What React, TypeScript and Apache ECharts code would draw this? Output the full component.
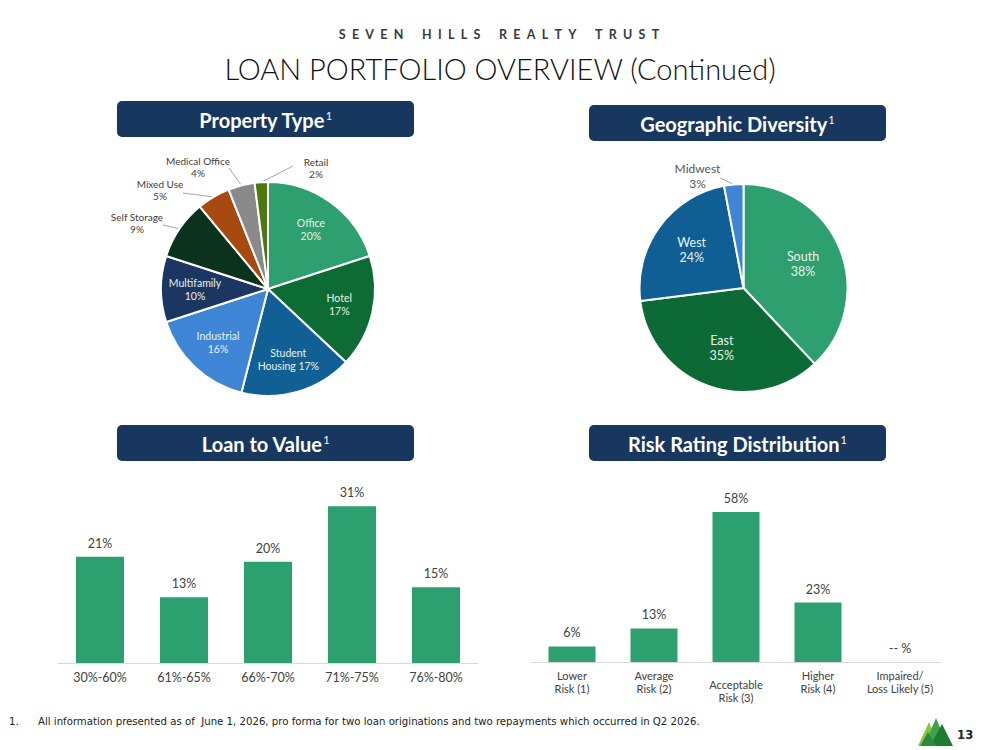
import React, { useEffect, useRef } from "react";
import * as echarts from "echarts";

// ---- data ----
const propertyTypes = [
  "Office",
  "Hotel",
  "Student Housing",
  "Industrial",
  "Multifamily",
  "Self Storage",
  "Mixed Use",
  "Medical Office",
  "Retail",
];
const propertyShares = [20, 17, 17, 16, 10, 9, 5, 4, 2];

const regions = ["South", "East", "West", "Midwest"];
const regionShares = [38, 35, 24, 3];

const ltvBuckets = ["30%-60%", "61%-65%", "66%-70%", "71%-75%", "76%-80%"];
const ltvShares = [21, 13, 20, 31, 15];

const riskRatings = [
  "Lower\nRisk (1)",
  "Average\nRisk (2)",
  "Acceptable\nRisk (3)",
  "Higher\nRisk (4)",
  "Impaired/\nLoss Likely (5)",
];
const riskShares = [6, 13, 58, 23, 0];

// ---- styling ----
const FONT = "Lato, 'Open Sans', 'Noto Sans', sans-serif";
const NARROW = "'Liberation Sans Narrow', 'DejaVu Sans Condensed', sans-serif";
const NAVY = "#17375E";
const TEXT = "#404040";
const BAR = "#2CA06E";

const propertyColors = [
  "#2E9F6E",
  "#0D6B34",
  "#106096",
  "#3E85D5",
  "#1B3660",
  "#0A321C",
  "#A84A10",
  "#8A8A8A",
  "#4C7810",
];
const regionColors = ["#2E9F6E", "#0B6A36", "#0F5E94", "#3E85D5"];

// pie geometry
const PROP_CENTER = [268, 289];
const PROP_R = 107;
const GEO_CENTER = [743.5, 288];
const GEO_R = 104;

// callout placement for the thin slices, relative to the pie centre
const propertyCallouts: Record<string, { label: number[]; end: number[] }> = {
  Retail: { label: [48, -121], end: [25, -123] },
  "Medical Office": { label: [-70, -122], end: [-39, -121] },
  "Mixed Use": { label: [-108, -99], end: [-85, -96] },
  "Self Storage": { label: [-131, -66], end: [-105, -64] },
};
const geoCallouts: Record<string, { label: number[]; end: number[] }> = {
  Midwest: { label: [-46, -112], end: [-23, -110] },
};
const smallProperty = new Set(Object.keys(propertyCallouts));
const smallRegion = new Set(Object.keys(geoCallouts));

function calloutLayout(
  names: string[],
  center: number[],
  spots: Record<string, { label: number[]; end: number[] }>
) {
  return (p: any) => {
    const spot = spots[names[p.dataIndex]];
    if (!spot) return {};
    const end = [center[0] + spot.end[0], center[1] + spot.end[1]];
    const pts = p.labelLinePoints;
    const out: any = {
      x: center[0] + spot.label[0],
      y: center[1] + spot.label[1],
      align: "center",
      verticalAlign: "middle",
    };
    if (pts) out.labelLinePoints = [pts[0], end, end];
    return out;
  };
}

function headerBox(x: number, y: number, title: string) {
  return {
    type: "group",
    children: [
      {
        type: "rect",
        shape: { x, y, width: 297, height: 36, r: 5 },
        style: { fill: NAVY },
      },
      {
        type: "text",
        x: x + 148.5,
        y: y + 19,
        style: {
          text: `{a|${title}}{b|1}`,
          align: "center",
          verticalAlign: "middle",
          textAlign: "center",
          textVerticalAlign: "middle",
          rich: {
            a: {
              fontFamily: FONT,
              fontSize: 20,
              fontWeight: "bold",
              fill: "#FFFFFF",
              color: "#FFFFFF",
            },
            b: {
              fontFamily: FONT,
              fontSize: 11,
              fill: "#FFFFFF",
              color: "#FFFFFF",
              padding: [0, 0, 9, 1],
            },
          },
        },
      },
    ],
  };
}

const spacedTitle = "SEVEN HILLS REALTY TRUST"
  .split(" ")
  .map((w) => w.split("").join("\u2002"))
  .join("\u2002\u2002\u2002");

export default function App() {
  const ref = useRef<HTMLDivElement>(null);

  useEffect(() => {
    if (!ref.current) return;
    const chart = echarts.init(ref.current, undefined, { renderer: "svg" });

    const propertyData = propertyTypes.map((name, i) => {
      const small = smallProperty.has(name);
      return {
        name,
        value: propertyShares[i],
        itemStyle: { color: propertyColors[i] },
        label: { show: small },
        labelLine: { show: small },
      };
    });
    const propertyInner = propertyTypes.map((name, i) => ({
      name,
      value: propertyShares[i],
      label: { show: !smallProperty.has(name) },
    }));

    const regionData = regions.map((name, i) => {
      const small = smallRegion.has(name);
      return {
        name,
        value: regionShares[i],
        itemStyle: { color: regionColors[i] },
        label: { show: small },
        labelLine: { show: small },
      };
    });
    const regionInner = regions.map((name, i) => ({
      name,
      value: regionShares[i],
      label: { show: !smallRegion.has(name) },
    }));

    const calloutLabel = {
      position: "outside",
      color: TEXT,
      fontFamily: FONT,
      fontSize: 10,
      lineHeight: 12,
      align: "center",
      formatter: (p: any) => `${p.name}\n${p.value}%`,
    };

    const overlayBase = {
      type: "pie",
      silent: true,
      startAngle: 90,
      clockwise: true,
      itemStyle: { color: "rgba(0,0,0,0)", borderWidth: 0 },
      labelLine: { show: false },
      emphasis: { disabled: true },
      z: 5,
    };

    const option: any = {
      animation: false,
      backgroundColor: "#FFFFFF",
      textStyle: { fontFamily: FONT },
      graphic: [
        {
          type: "text",
          x: 499,
          y: 34,
          style: {
            text: spacedTitle,
            fontFamily: FONT,
            fontSize: 12.5,
            fontWeight: "bold",
            fill: "#3A3A3A",
            align: "center",
            verticalAlign: "middle",
            textAlign: "center",
            textVerticalAlign: "middle",
          },
        },
        {
          type: "text",
          x: 500,
          y: 68,
          style: {
            text: "LOAN PORTFOLIO OVERVIEW (Continued)",
            fontFamily: FONT,
            fontSize: 29,
            fontWeight: 300,
            fill: "#111111",
            align: "center",
            verticalAlign: "middle",
            textAlign: "center",
            textVerticalAlign: "middle",
          },
        },
        headerBox(117, 101, "Property Type"),
        headerBox(589, 105, "Geographic Diversity"),
        headerBox(117, 425, "Loan to Value"),
        headerBox(589, 425, "Risk Rating Distribution"),
        {
          type: "text",
          x: 9,
          y: 721,
          style: {
            text: "1.",
            fontFamily: NARROW,
            fontSize: 11.3,
            fill: "#222222",
            verticalAlign: "middle",
            textVerticalAlign: "middle",
          },
        },
        {
          type: "text",
          x: 38,
          y: 721,
          style: {
            text:
              "All information presented as of  June 1, 2026, pro forma for two loan originations and two repayments which occurred in Q2 2026.",
            fontFamily: NARROW,
            fontSize: 11.3,
            fill: "#222222",
            verticalAlign: "middle",
            textVerticalAlign: "middle",
          },
        },
        // company mark
        {
          type: "polygon",
          shape: { points: [[918, 746], [929, 722], [940, 746]] },
          style: { fill: "#8CC63F" },
        },
        {
          type: "polygon",
          shape: { points: [[924, 746], [936, 718], [948, 746]] },
          style: { fill: "#3FA34D" },
        },
        {
          type: "polygon",
          shape: { points: [[930, 746], [942, 724], [953, 746]] },
          style: { fill: "#1E7B34" },
        },
        {
          type: "polygon",
          shape: { points: [[920, 746], [928, 732], [936, 746]] },
          style: { fill: "#2E8B3E" },
        },
        {
          type: "text",
          x: 957,
          y: 734,
          style: {
            text: "13",
            fontFamily: NARROW,
            fontSize: 13,
            fontWeight: "bold",
            fill: "#222222",
            verticalAlign: "middle",
            textVerticalAlign: "middle",
          },
        },
      ],
      grid: [
        { left: 58, top: 486, width: 420, height: 177 },
        { left: 531, top: 481, width: 410, height: 181 },
      ],
      xAxis: [
        {
          type: "category",
          gridIndex: 0,
          data: ltvBuckets,
          axisTick: { show: false },
          axisLine: { lineStyle: { color: "#D9D9D9", width: 1 } },
          axisLabel: { color: TEXT, fontSize: 12.5, fontFamily: FONT, margin: 8 },
        },
        {
          type: "category",
          gridIndex: 1,
          data: riskRatings.map((r, i) =>
            i === 2 ? { value: r, textStyle: { padding: [9, 0, 0, 0] } } : r
          ),
          axisTick: { show: false },
          axisLine: { lineStyle: { color: "#D9D9D9", width: 1 } },
          axisLabel: {
            color: TEXT,
            fontSize: 11,
            lineHeight: 13,
            fontFamily: FONT,
            margin: 7,
            interval: 0,
          },
        },
      ],
      yAxis: [
        { type: "value", gridIndex: 0, min: 0, max: 35, show: false },
        { type: "value", gridIndex: 1, min: 0, max: 70, show: false },
      ],
      series: [
        {
          type: "pie",
          center: PROP_CENTER,
          radius: PROP_R,
          startAngle: 90,
          clockwise: true,
          avoidLabelOverlap: false,
          data: propertyData,
          itemStyle: { borderColor: "#FFFFFF", borderWidth: 2 },
          label: { show: false, ...calloutLabel },
          labelLine: { show: false, lineStyle: { color: "#A6A6A6", width: 1 } },
          labelLayout: calloutLayout(propertyTypes, PROP_CENTER, propertyCallouts),
          emphasis: { disabled: true },
        },
        {
          ...overlayBase,
          center: PROP_CENTER,
          radius: [33, PROP_R],
          data: propertyInner,
          label: {
            position: "inside",
            color: "#E8F3EC",
            fontFamily: FONT,
            fontSize: 10.5,
            lineHeight: 13,
            formatter: (p: any) =>
              p.name === "Student Housing"
                ? `Student\nHousing ${p.value}%`
                : `${p.name}\n${p.value}%`,
          },
        },
        {
          type: "pie",
          center: GEO_CENTER,
          radius: GEO_R,
          startAngle: 90,
          clockwise: true,
          avoidLabelOverlap: false,
          data: regionData,
          itemStyle: { borderColor: "#FFFFFF", borderWidth: 2 },
          label: {
            show: false,
            ...calloutLabel,
            fontSize: 12,
            lineHeight: 15,
            color: "#555555",
          },
          labelLine: { show: false, lineStyle: { color: "#A6A6A6", width: 1 } },
          labelLayout: calloutLayout(regions, GEO_CENTER, geoCallouts),
          emphasis: { disabled: true },
        },
        {
          ...overlayBase,
          center: GEO_CENTER,
          radius: [18, GEO_R],
          data: regionInner,
          label: {
            position: "inside",
            color: "#E8F3EC",
            fontFamily: FONT,
            fontSize: 12.5,
            lineHeight: 15,
            formatter: (p: any) => `${p.name}\n${p.value}%`,
          },
        },
        {
          type: "bar",
          xAxisIndex: 0,
          yAxisIndex: 0,
          data: ltvShares,
          barWidth: 48,
          itemStyle: { color: BAR },
          label: {
            show: true,
            position: "top",
            distance: 7,
            color: TEXT,
            fontSize: 12.5,
            fontFamily: FONT,
            formatter: (p: any) => `${p.value}%`,
          },
          emphasis: { disabled: true },
        },
        {
          type: "bar",
          xAxisIndex: 1,
          yAxisIndex: 1,
          data: riskShares,
          barWidth: 47,
          itemStyle: { color: BAR },
          label: {
            show: true,
            position: "top",
            distance: 7,
            color: TEXT,
            fontSize: 12.5,
            fontFamily: FONT,
            formatter: (p: any) => (p.value === 0 ? "-- %" : `${p.value}%`),
          },
          emphasis: { disabled: true },
        },
      ],
    };

    chart.setOption(option);
    return () => chart.dispose();
  }, []);

  return (
    <div
      ref={ref}
      style={{
        position: "absolute",
        left: 0,
        top: 0,
        width: 999,
        height: 750,
        background: "#FFFFFF",
      }}
    />
  );
}
